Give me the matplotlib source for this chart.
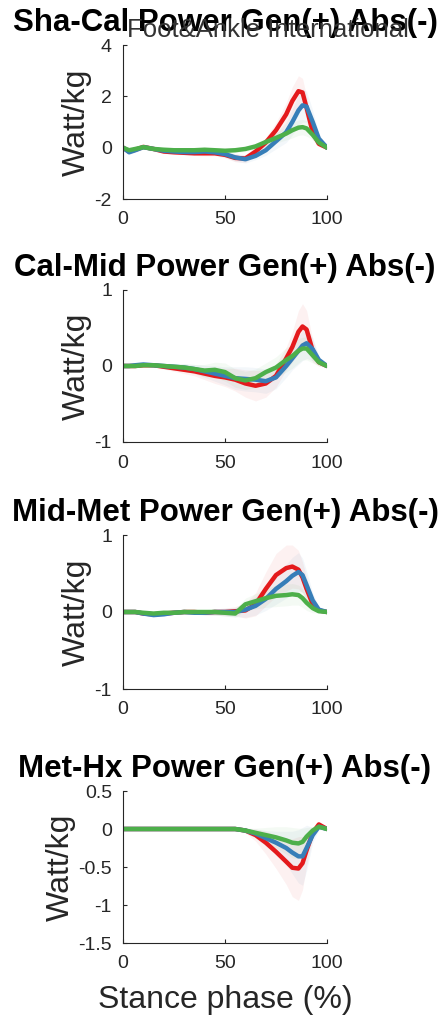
"""
Joint power curves over stance, four segments, three groups.
"""

import numpy as np
import matplotlib.pyplot as plt

plt.rcParams['font.family'] = ['Liberation Sans', 'DejaVu Sans']

stance = [0, 3, 6, 10, 15, 20, 25, 30, 35, 40, 45, 50, 55, 60, 65, 70, 75, 80, 83, 86, 88, 90, 93, 96, 100]

titles = ['Sha-Cal Power Gen(+) Abs(-)', 'Cal-Mid Power Gen(+) Abs(-)',
          'Mid-Met Power Gen(+) Abs(-)', 'Met-Hx Power Gen(+) Abs(-)']

# Sha-Cal
shacal_red = [0, -0.15, -0.08, 0.03, -0.05, -0.15, -0.18, -0.2, -0.22, -0.22, -0.22, -0.28, -0.4, -0.42,
              -0.15, 0.2, 0.68, 1.3, 1.82, 2.2, 2.15, 1.55, 0.6, 0.15, 0]
shacal_blue = [0, -0.18, -0.1, 0.02, -0.05, -0.12, -0.15, -0.17, -0.17, -0.15, -0.18, -0.25, -0.38, -0.45,
               -0.32, -0.1, 0.25, 0.6, 1.0, 1.45, 1.65, 1.6, 1.0, 0.35, 0]
shacal_green = [0, -0.1, -0.05, 0.02, -0.05, -0.08, -0.1, -0.1, -0.1, -0.08, -0.1, -0.12, -0.1, -0.05,
                0.05, 0.22, 0.38, 0.55, 0.68, 0.78, 0.8, 0.75, 0.5, 0.2, 0]
shacal_red_sd = [0.05, 0.08, 0.08, 0.08, 0.08, 0.08, 0.08, 0.08, 0.08, 0.1, 0.1, 0.12, 0.15, 0.15,
                 0.15, 0.2, 0.3, 0.45, 0.55, 0.6, 0.55, 0.45, 0.3, 0.1, 0.05]
shacal_blue_sd = [0.05, 0.08, 0.08, 0.08, 0.08, 0.08, 0.08, 0.08, 0.08, 0.1, 0.1, 0.12, 0.15, 0.15,
                  0.15, 0.2, 0.3, 0.4, 0.5, 0.6, 0.65, 0.6, 0.45, 0.2, 0.05]
shacal_green_sd = [0.05, 0.06, 0.06, 0.06, 0.06, 0.06, 0.06, 0.06, 0.06, 0.06, 0.08, 0.08, 0.1, 0.1,
                   0.12, 0.15, 0.2, 0.25, 0.3, 0.3, 0.3, 0.3, 0.2, 0.1, 0.05]

# Cal-Mid
calmid_red = [0, 0, 0, 0.01, 0.01, -0.01, -0.03, -0.05, -0.07, -0.1, -0.13, -0.15, -0.18, -0.23,
              -0.26, -0.23, -0.13, 0.1, 0.25, 0.45, 0.52, 0.48, 0.2, 0.05, 0]
calmid_blue = [0, 0, 0.01, 0.02, 0.01, 0, -0.01, -0.02, -0.04, -0.07, -0.1, -0.13, -0.16, -0.17,
               -0.18, -0.2, -0.15, 0, 0.1, 0.2, 0.27, 0.3, 0.22, 0.08, 0]
calmid_green = [0, 0, 0, 0.01, 0.01, 0, -0.01, -0.02, -0.04, -0.06, -0.05, -0.08, -0.16, -0.19,
                -0.16, -0.08, -0.02, 0.08, 0.13, 0.2, 0.23, 0.23, 0.14, 0.05, 0]
calmid_red_sd = [0.01, 0.01, 0.02, 0.02, 0.02, 0.03, 0.04, 0.05, 0.06, 0.08, 0.1, 0.12, 0.15, 0.18,
                 0.2, 0.18, 0.15, 0.15, 0.2, 0.28, 0.3, 0.25, 0.15, 0.05, 0.02]
calmid_blue_sd = [0.01, 0.01, 0.02, 0.02, 0.02, 0.03, 0.04, 0.05, 0.06, 0.08, 0.1, 0.12, 0.15, 0.16,
                  0.16, 0.16, 0.15, 0.15, 0.15, 0.18, 0.2, 0.2, 0.15, 0.05, 0.02]
calmid_green_sd = [0.01, 0.01, 0.02, 0.02, 0.02, 0.03, 0.04, 0.05, 0.06, 0.08, 0.1, 0.12, 0.12, 0.12,
                   0.12, 0.12, 0.14, 0.16, 0.16, 0.16, 0.15, 0.15, 0.1, 0.05, 0.02]

# Mid-Met
midmet_red = [0, 0, 0, -0.02, -0.03, -0.02, -0.01, 0, 0, -0.01, 0, 0, 0.01, 0.02,
              0.1, 0.3, 0.48, 0.57, 0.59, 0.55, 0.45, 0.3, 0.1, 0.02, 0]
midmet_blue = [0, 0, 0, -0.02, -0.04, -0.03, -0.01, 0, -0.01, -0.01, 0, 0, 0, 0.03,
               0.08, 0.17, 0.3, 0.4, 0.47, 0.52, 0.48, 0.35, 0.15, 0.03, 0]
midmet_green = [0, 0, 0, -0.01, -0.02, -0.01, -0.01, 0, 0, 0, 0, -0.01, -0.02, 0.1,
                0.14, 0.18, 0.21, 0.22, 0.23, 0.22, 0.18, 0.12, 0.05, 0.01, 0]
midmet_red_sd = [0.01, 0.01, 0.01, 0.02, 0.02, 0.02, 0.02, 0.02, 0.02, 0.03, 0.04, 0.05, 0.06, 0.1,
                 0.15, 0.22, 0.28, 0.3, 0.28, 0.25, 0.2, 0.15, 0.08, 0.03, 0.01]
midmet_blue_sd = [0.01, 0.01, 0.01, 0.02, 0.02, 0.02, 0.02, 0.02, 0.02, 0.03, 0.04, 0.05, 0.06, 0.1,
                  0.12, 0.15, 0.2, 0.22, 0.24, 0.25, 0.22, 0.18, 0.1, 0.03, 0.01]
midmet_green_sd = [0.01, 0.01, 0.01, 0.02, 0.02, 0.02, 0.02, 0.02, 0.02, 0.03, 0.04, 0.04, 0.05, 0.08,
                   0.1, 0.12, 0.14, 0.14, 0.14, 0.13, 0.12, 0.1, 0.06, 0.02, 0.01]

# Met-Hx
methx_red = [0, 0, 0, 0, 0, 0, 0, 0, 0, 0, 0, 0, 0, -0.02,
             -0.08, -0.18, -0.3, -0.43, -0.51, -0.52, -0.45, -0.28, -0.05, 0.06, 0]
methx_blue = [0, 0, 0, 0, 0, 0, 0, 0, 0, 0, 0, 0, 0, -0.02,
              -0.06, -0.12, -0.18, -0.25, -0.31, -0.36, -0.36, -0.25, -0.08, 0.03, 0]
methx_green = [0, 0, 0, 0, 0, 0, 0, 0, 0, 0, 0, 0, 0, -0.02,
               -0.05, -0.08, -0.11, -0.15, -0.18, -0.19, -0.17, -0.1, -0.02, 0.03, 0]
methx_red_sd = [0.005, 0.005, 0.005, 0.005, 0.005, 0.005, 0.005, 0.005, 0.005, 0.005, 0.005, 0.01, 0.01, 0.03,
                0.08, 0.15, 0.22, 0.3, 0.38, 0.42, 0.35, 0.2, 0.06, 0.04, 0.01]
methx_blue_sd = [0.005, 0.005, 0.005, 0.005, 0.005, 0.005, 0.005, 0.005, 0.005, 0.005, 0.005, 0.01, 0.01, 0.03,
                 0.06, 0.1, 0.15, 0.22, 0.28, 0.35, 0.38, 0.3, 0.1, 0.04, 0.01]
methx_green_sd = [0.005, 0.005, 0.005, 0.005, 0.005, 0.005, 0.005, 0.005, 0.005, 0.005, 0.005, 0.01, 0.01, 0.03,
                  0.06, 0.1, 0.14, 0.18, 0.2, 0.2, 0.18, 0.12, 0.05, 0.03, 0.01]

ylims = [(-2, 4), (-1, 1), (-1, 1), (-1.5, 0.5)]
yticks = [[-2, 0, 2, 4], [-1, 0, 1], [-1, 0, 1], [-1.5, -1, -0.5, 0, 0.5]]
yticklabels = [['-2', '0', '2', '4'], ['-1', '0', '1'], ['-1', '0', '1'],
               ['-1.5', '-1', '-0.5', '0', '0.5']]

means = [(shacal_red, shacal_blue, shacal_green),
         (calmid_red, calmid_blue, calmid_green),
         (midmet_red, midmet_blue, midmet_green),
         (methx_red, methx_blue, methx_green)]
sds = [(shacal_red_sd, shacal_blue_sd, shacal_green_sd),
       (calmid_red_sd, calmid_blue_sd, calmid_green_sd),
       (midmet_red_sd, midmet_blue_sd, midmet_green_sd),
       (methx_red_sd, methx_blue_sd, methx_green_sd)]

colors = ['#e41a1c', '#377eb8', '#4daf4a']
grey = '#262626'

W, H = 443, 1017
fig = plt.figure(figsize=(W / 100, H / 100), dpi=100)

# pixel boxes (top, bottom) of each axes
boxes = [(45, 199), (290, 442), (535, 689), (791, 943)]
left, right = 123, 327

x = np.array(stance)
for i in range(4):
    top, bot = boxes[i]
    ax = fig.add_axes([left / W, (H - bot) / H, (right - left) / W, (bot - top) / H])
    for m, s, c in zip(means[i], sds[i], colors):
        m = np.array(m)
        s = np.array(s)
        ax.fill_between(x, m - s, m + s, color=c, alpha=0.06, lw=0)
    for m, c in zip(means[i], colors):
        ax.plot(x, m, color=c, lw=3.2, solid_capstyle='round')
    ax.set_xlim(0, 100)
    ax.set_ylim(*ylims[i])
    ax.set_xticks([0, 50, 100])
    ax.set_yticks(yticks[i])
    ax.set_yticklabels(yticklabels[i])
    ax.spines['top'].set_visible(False)
    ax.spines['right'].set_visible(False)
    for sp in ['left', 'bottom']:
        ax.spines[sp].set_color(grey)
        ax.spines[sp].set_linewidth(0.8)
    ax.tick_params(direction='in', length=3, width=0.8, colors=grey, labelsize=14)
    ax.tick_params(axis='x', pad=9)
    ax.tick_params(axis='y', pad=8)
    ax.set_ylabel('Watt/kg', fontsize=23, color=grey, labelpad=2)
    ax.set_title(titles[i], fontsize=22.5, fontweight='bold', pad=10)
    if i == 3:
        ax.set_xlabel('Stance phase (%)', fontsize=23, color=grey, labelpad=9)

fig.text(268 / W, 1 - 37 / H, 'Foot&Ankle International', fontsize=18.5, color='#333333',
         ha='center', va='baseline')

fig.savefig('out.png', dpi=100)
